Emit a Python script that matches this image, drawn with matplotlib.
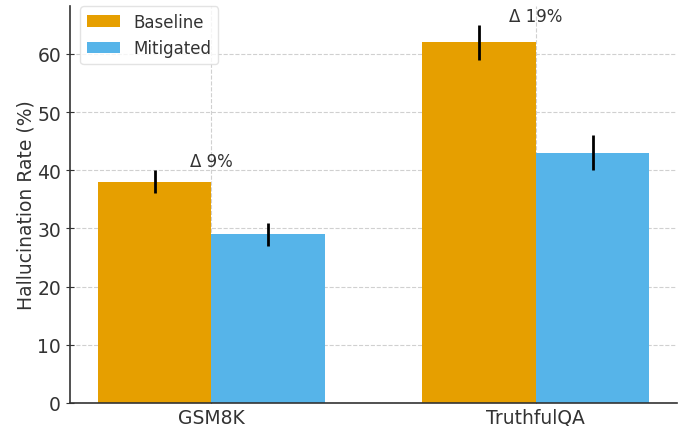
import numpy as np
import matplotlib
matplotlib.use("Agg")
import matplotlib.pyplot as plt

benchmarks = ["GSM8K", "TruthfulQA"]
baseline = [38, 62]
mitigated = [29, 43]
baseline_err = [2, 3]
mitigated_err = [2, 3]
deltas = ["Δ 9%", "Δ 19%"]

ink = "#333333"
plt.rcParams.update({
    "font.family": "DejaVu Sans",
    "text.color": ink,
    "axes.labelcolor": ink,
    "xtick.color": ink,
    "ytick.color": ink,
})

fig, ax = plt.subplots(figsize=(6.81, 4.27), dpi=100)

x = np.arange(len(benchmarks))
w = 0.35
ax.bar(x - w / 2, baseline, w, yerr=baseline_err, color="#E69F00",
       error_kw=dict(elinewidth=2, ecolor="black"), label="Baseline", zorder=2)
ax.bar(x + w / 2, mitigated, w, yerr=mitigated_err, color="#56B4E9",
       error_kw=dict(elinewidth=2, ecolor="black"), label="Mitigated", zorder=2)

for xi, b, e, d in zip(x, baseline, baseline_err, deltas):
    ax.text(xi, b + e, d, ha="center", va="bottom", fontsize=12)

ax.set_xticks(x)
ax.set_xticklabels(benchmarks, fontsize=13.5)
ax.set_ylabel("Hallucination Rate (%)", fontsize=13.5, labelpad=1)
ax.tick_params(axis="y", labelsize=13.5, direction="inout", length=6)
ax.tick_params(axis="x", direction="in", length=4)
ax.grid(True, linestyle="--", color="#d0d0d0", linewidth=0.8, zorder=0)
ax.set_axisbelow(True)

for side in ("top", "right"):
    ax.spines[side].set_visible(False)
for side in ("left", "bottom"):
    ax.spines[side].set_color(ink)
    ax.spines[side].set_linewidth(1.2)

ax.legend(loc="upper left", bbox_to_anchor=(0.003, 1.02), fontsize=12,
          edgecolor="#dddddd")

fig.subplots_adjust(left=0.103, right=0.994, bottom=0.054, top=0.984)
fig.savefig("out.png", dpi=100)
